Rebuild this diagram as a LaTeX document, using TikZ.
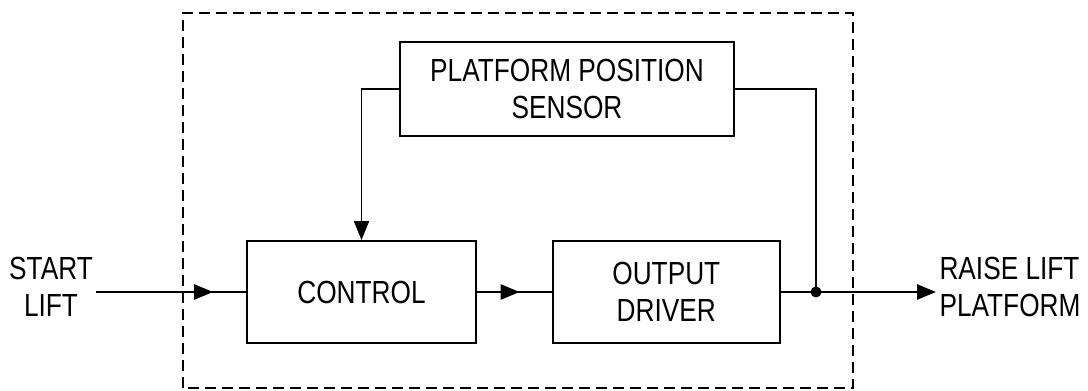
\documentclass[tikz,border=0pt]{standalone}
\usepackage{fontspec}
\setmainfont[FakeStretch=0.82]{Liberation Sans}
\usetikzlibrary{positioning, arrows.meta, decorations.markings}

\begin{document}
\begin{tikzpicture}[
    x=1pt, y=1pt,
    font=\fontsize{32}{37}\selectfont,
    % boxes and wires: one style each, sizes in pt so they match the sketch
    box/.style      = {draw=black, line width=1.8pt, align=center, inner sep=0pt},
    signal/.style   = {line width=2.6pt},
    feed/.style     = {line width=1.8pt},
    arrowed/.style  = {-{Triangle[length=19pt, width=15pt]}},
    midarrow/.style = {postaction={decorate}, decoration={markings,
        mark=at position #1 with {\arrow{Triangle[length=19pt, width=15pt]}}}},
  ]
  \useasboundingbox (0,0) rectangle (1088,391);

  %% ---------- the dashed system boundary ----------
  \draw[dash pattern=on 11pt off 6pt, line width=2pt] (183,3) rectangle (853,378);

  %% ---------- blocks ----------
  \node[box, minimum width=334pt, minimum height=94pt] (sensor) at (567,302) {PLATFORM POSITION\\SENSOR};
  \node[box, minimum width=229pt, minimum height=102pt] (control) at (361.5,99) {CONTROL};
  \node[box, minimum width=227pt, minimum height=102pt, right=75pt of control] (driver) {OUTPUT\\DRIVER};

  \node[align=center] (start) at (51,104) {START\\LIFT};
  \node[align=left, anchor=west] (raise) at (936,104) {RAISE LIFT\\PLATFORM};
  \coordinate (tap) at (816,99);

  %% ---------- wires ----------
  \draw[signal, midarrow=0.78] (start.east |- control.west) -- (control.west);
  \draw[signal, midarrow=0.57] (control.east) -- (driver.west);
  \draw[signal, arrowed] (driver.east) -- (raise.west |- driver.east);

  % feedback from the sensor: down into control, and the tap on the output
  \draw[feed, arrowed] (sensor.west) -| (control.north);
  \draw[feed] (sensor.east) -| (tap);
  \fill (tap) circle (5.5);
\end{tikzpicture}
\end{document}
